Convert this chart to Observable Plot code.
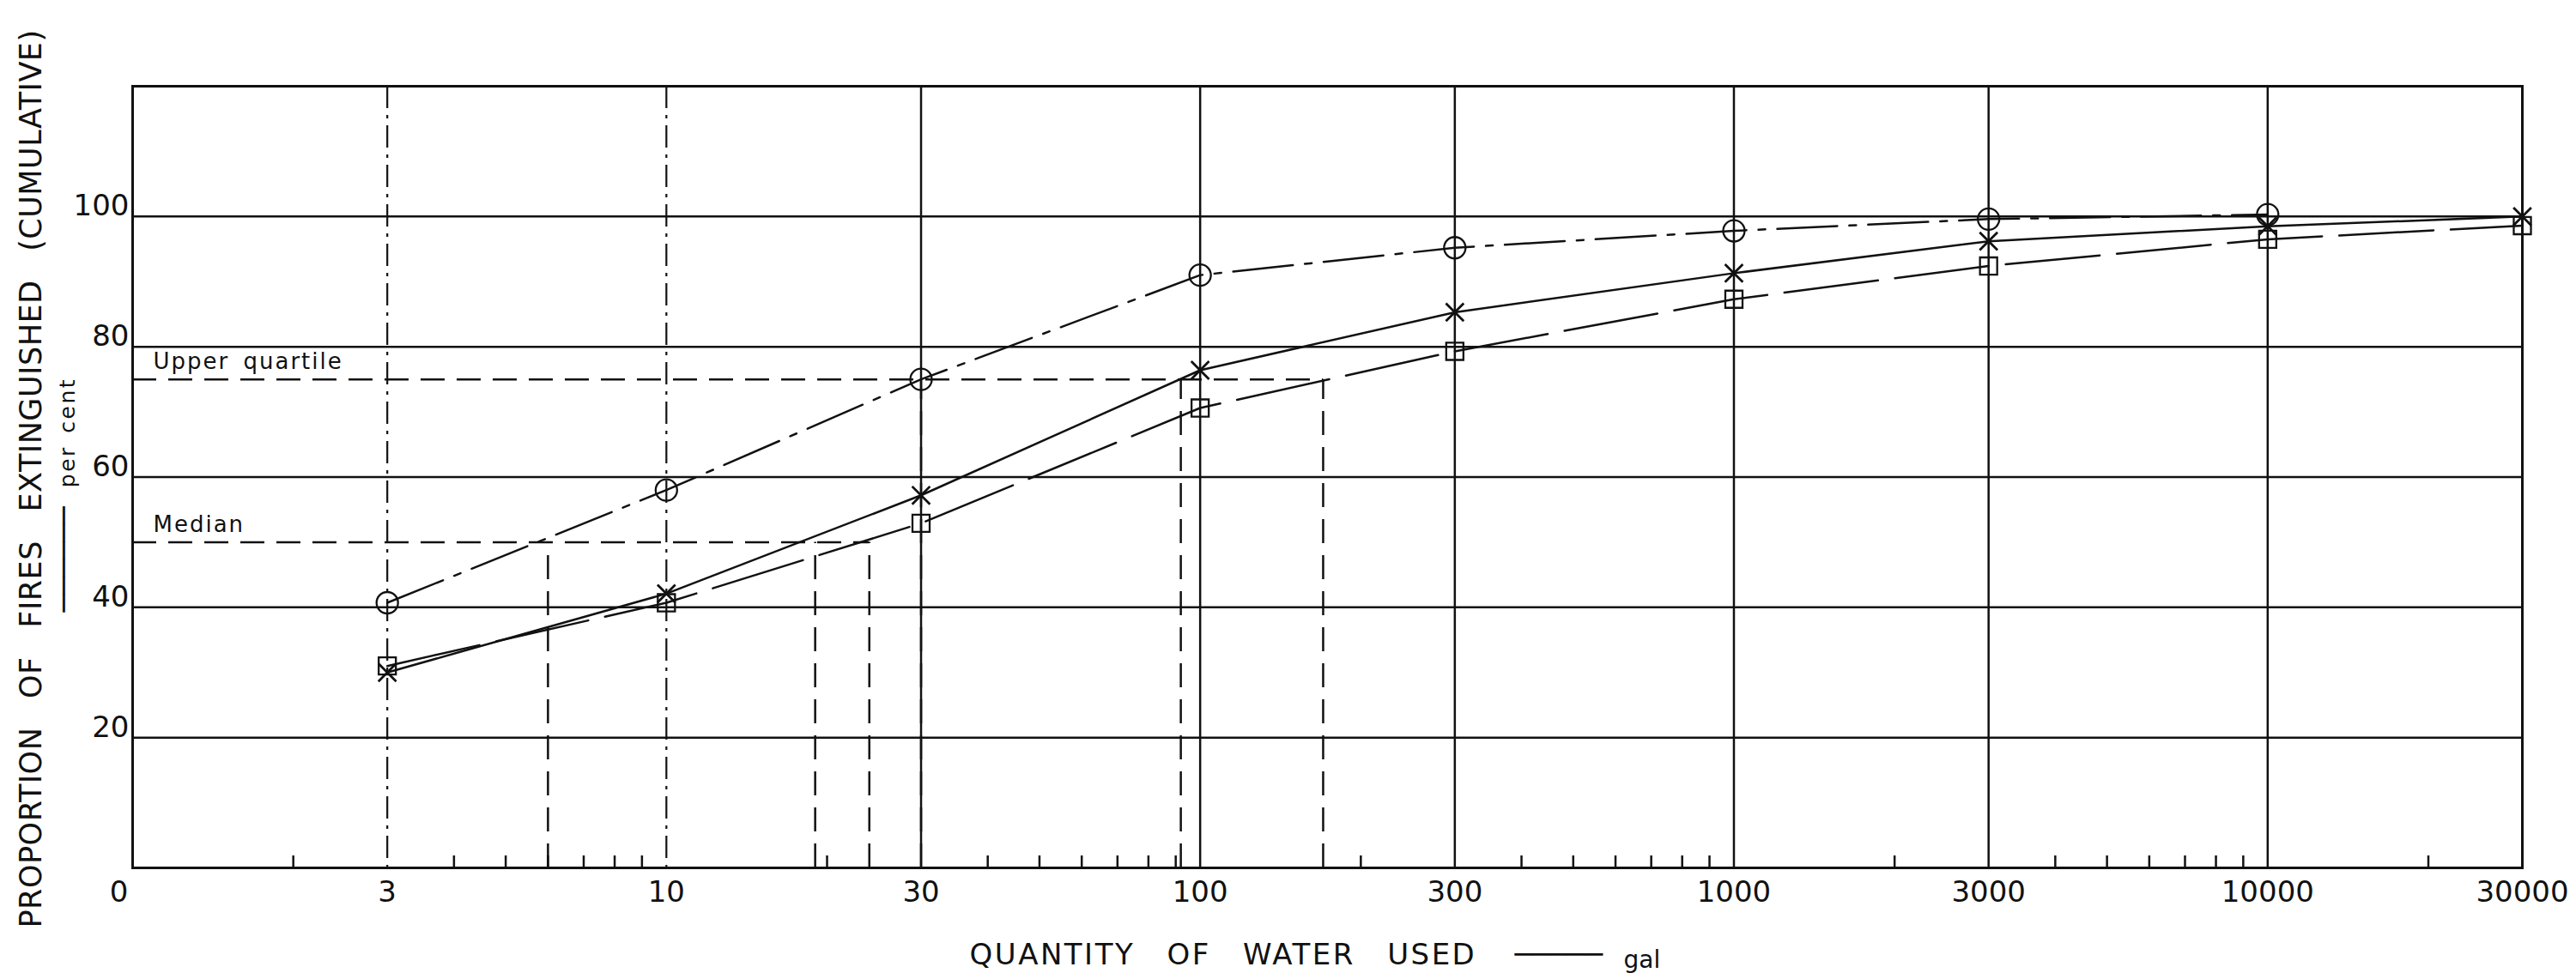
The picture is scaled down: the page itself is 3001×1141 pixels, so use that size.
<!DOCTYPE html>
<html>
<head>
<meta charset="utf-8">
<script src="https://cdn.jsdelivr.net/npm/d3@7"></script>
<script src="https://cdn.jsdelivr.net/npm/@observablehq/plot@0.6"></script>
<style>
html, body { margin: 0; padding: 0; background: #fff; }
</style>
</head>
<body>
<div id="chart"></div>
<script>
// ---- data ----
const quantities = [3, 10, 30, 100, 300, 1000, 3000, 10000, 30000];
const circleValues = [40.7, 58, 75, 91, 95.2, 97.8, 99.6, 100.3];          // dash-dot line, circles
const crossValues  = [30, 42.1, 57.2, 76.4, 85.3, 91.3, 96.2, 98.5, 100];  // solid line, crosses
const squareValues = [31, 40.7, 52.9, 70.6, 79.3, 87.3, 92.4, 96.5, 98.6]; // long-dash line, squares

const xDomain = [1, 30000];
const yDomain = [0, 120];
const xTickValues = [3, 10, 30, 100, 300, 1000, 3000, 10000, 30000];
const xTickLabels = ["3", "10", "30", "100", "300", "1000", "3000", "10000", "30000"];
const xZeroTick = [1];
const xZeroLabel = "0";
const yTickValues = [20, 40, 60, 80, 100];
const minorTickValues = [2, 4, 5, 6, 7, 8, 9, 20, 40, 50, 60, 70, 80, 90, 200, 400, 500, 600, 700, 800, 900,
  2000, 4000, 5000, 6000, 7000, 8000, 9000, 20000];
const dashDotGrid = [3, 10];
const solidGrid = [30, 100, 300, 1000, 3000, 10000];

const quartileLabels = ["Median", "Upper quartile"];
const quartileLevels = [50, 75];
const medianCrossings = [6, 19, 24];
const upperQuartileCrossings = [30, 92, 170];

const yTitle = "PROPORTION OF FIRES EXTINGUISHED (CUMULATIVE)";
const yUnitDash = "──────";
const yUnit = "per cent";
const xTitle = "QUANTITY OF WATER USED";
const xUnitDash = "─────";
const xUnit = "gal";

// ---- tables built from the arrays ----
const toRows = (vals) => vals.map((v, i) => ({q: quantities[i], p: v}));
const circleData = toRows(circleValues);
const crossData = toRows(crossValues);
const squareData = toRows(squareValues);
const crossingSets = [medianCrossings, upperQuartileCrossings];
const quartileTable = quartileLevels.map((lev, i) => ({level: lev, label: quartileLabels[i], end: d3.max(crossingSets[i])}));
const quartileVerticals = crossingSets.flatMap((set, i) => set.map(q => ({q, level: quartileLevels[i]})));

const ink = "#111";

const svg = Plot.plot({
  width: 3001,
  height: 1141,
  marginLeft: 154,
  marginRight: 63,
  marginTop: 100,
  marginBottom: 130,
  style: {fontFamily: "DejaVu Sans", background: "white", color: ink},
  x: {type: "log", domain: xDomain},
  y: {domain: yDomain},
  marks: [
    // grid
    Plot.ruleY(yTickValues, {stroke: ink, strokeWidth: 2.5}),
    Plot.ruleX(solidGrid, {stroke: ink, strokeWidth: 2.5}),
    Plot.ruleX(dashDotGrid, {stroke: ink, strokeWidth: 2.2, strokeDasharray: "26,8,4,8"}),
    Plot.ruleX(minorTickValues, {x: d => d, y1: () => yDomain[0], y2: () => yDomain[0], insetTop: -14, stroke: ink, strokeWidth: 2.5}),
    Plot.frame({stroke: ink, strokeWidth: 3}),
    // quartile guides
    Plot.ruleY(quartileTable, {y: "level", x1: () => xDomain[0], x2: "end", stroke: ink, strokeWidth: 2.5, strokeDasharray: "28,14"}),
    Plot.ruleX(quartileVerticals, {x: "q", y1: () => yDomain[0], y2: "level", stroke: ink, strokeWidth: 2.5, strokeDasharray: "28,14"}),
    Plot.text(quartileTable, {x: () => xDomain[0], y: "level", text: "label", dx: 24, dy: -12, textAnchor: "start", lineAnchor: "bottom", fontSize: 26, fill: ink}),
    // series
    Plot.line(circleData, {x: "q", y: "p", stroke: ink, strokeWidth: 2.5, strokeDasharray: "70,14,8,14"}),
    Plot.line(crossData, {x: "q", y: "p", stroke: ink, strokeWidth: 2.5}),
    Plot.line(squareData, {x: "q", y: "p", stroke: ink, strokeWidth: 2.5, strokeDasharray: "110,20"}),
    Plot.dot(circleData, {x: "q", y: "p", r: 12.5, stroke: ink, strokeWidth: 2.3, fill: "none"}),
    Plot.dot(squareData, {x: "q", y: "p", symbol: "square", r: 11.3, stroke: ink, strokeWidth: 2.3, fill: "none"}),
    Plot.dot(crossData, {x: "q", y: "p", symbol: "times", r: 9.5, stroke: ink, strokeWidth: 2.8, fill: "none"}),
    // axes
    Plot.axisY(yTickValues, {anchor: "left", tickSize: 0, tickPadding: 4, fontSize: 34, lineAnchor: "bottom", dy: -1, label: null}),
    Plot.axisX(xTickValues, {anchor: "bottom", tickSize: 0, tickPadding: 15, fontSize: 34, tickFormat: d => xTickLabels[xTickValues.indexOf(d)], label: null}),
    Plot.axisX(xZeroTick, {anchor: "bottom", tickSize: 0, tickPadding: 15, fontSize: 34, tickFormat: () => xZeroLabel, dx: -16, label: null}),
    // titles
    Plot.text([yTitle], {text: d => d, frameAnchor: "bottom-left", dx: -118, dy: 70, rotate: -90, textAnchor: "start", lineAnchor: "middle", fontSize: 35, fill: ink}),
    Plot.text([yUnitDash], {text: d => d, frameAnchor: "left", dx: -79, dy: 96, rotate: -90, textAnchor: "middle", lineAnchor: "middle", fontSize: 34, fill: ink}),
    Plot.text([yUnit], {text: d => d, frameAnchor: "left", dx: -76, dy: -52, rotate: -90, textAnchor: "middle", lineAnchor: "middle", fontSize: 25, fill: ink}),
    Plot.text([xTitle], {text: d => d, frameAnchor: "bottom-left", dx: 975, dy: 112, textAnchor: "start", lineAnchor: "bottom", fontSize: 34, fill: ink}),
    Plot.text([xUnitDash], {text: d => d, frameAnchor: "bottom-left", dx: 1610, dy: 112, textAnchor: "start", lineAnchor: "bottom", fontSize: 34, fill: ink}),
    Plot.text([xUnit], {text: d => d, frameAnchor: "bottom-left", dx: 1737, dy: 116, textAnchor: "start", lineAnchor: "bottom", fontSize: 28, fill: ink})
  ]
});

const sel = d3.select(svg);
const spacing = {
  [yTitle]: ["0.5px", "22px"],
  [xTitle]: ["2.5px", "24px"],
  [yUnit]: ["2.5px", "4px"],
  [quartileLabels[0]]: ["2px", "0px"],
  [quartileLabels[1]]: ["2px", "6px"]
};
sel.selectAll("text").each(function() {
  const s = spacing[this.textContent];
  if (s) {
    this.style.letterSpacing = s[0];
    this.style.wordSpacing = s[1];
  }
});

document.getElementById("chart").appendChild(svg);
</script>
</body>
</html>
